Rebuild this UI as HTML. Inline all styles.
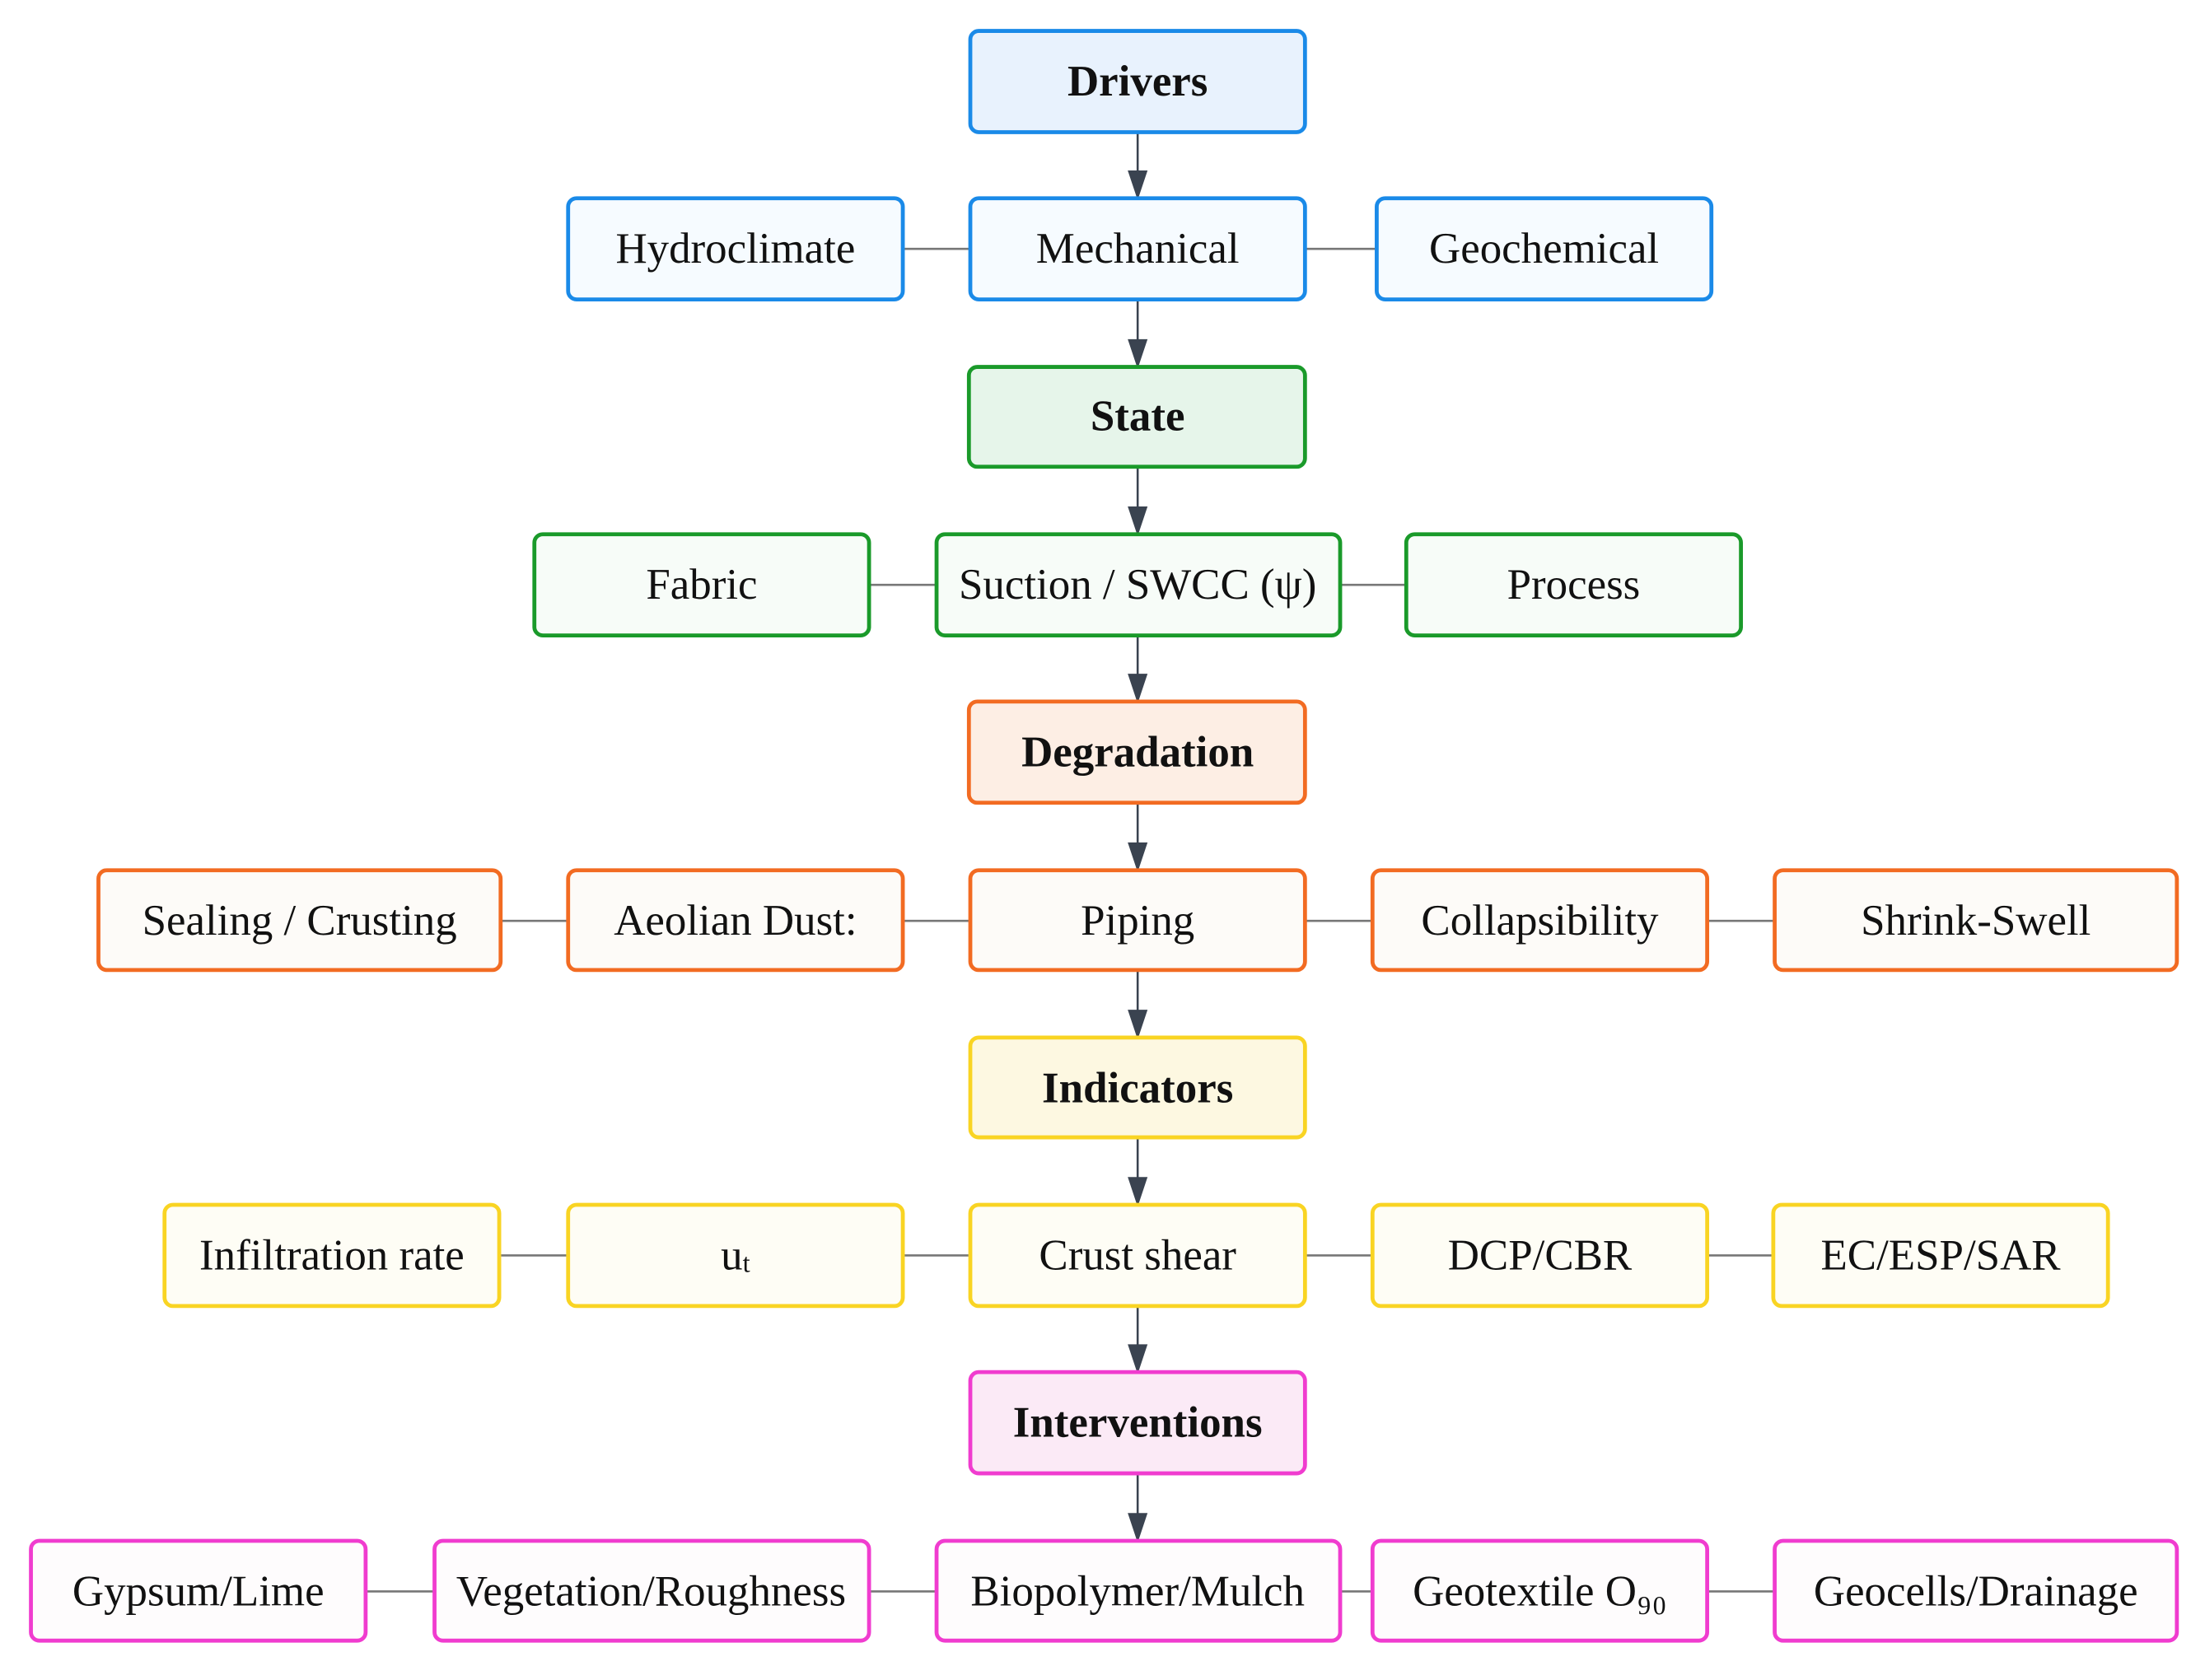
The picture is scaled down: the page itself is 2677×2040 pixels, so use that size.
<!DOCTYPE html>
<html><head><meta charset="utf-8"><style>
html,body{margin:0;padding:0;background:#fff;width:2677px;height:2040px;overflow:hidden}
svg{display:block}
text{font-family:"Liberation Serif","DejaVu Serif",serif;font-size:31px;fill:#111;text-anchor:middle;dominant-baseline:central}
.b{font-weight:bold}
</style></head><body>
<svg width="2677" height="2040" viewBox="0 0 1568 1195" preserveAspectRatio="none" xmlns="http://www.w3.org/2000/svg">
<g stroke="#3a4350" stroke-width="1.5" fill="#3a4350">
<line x1="809" y1="94" x2="809" y2="124"/><path d="M803,122 L815,122 L809,140 Z"/>
<line x1="809" y1="213" x2="809" y2="244"/><path d="M803,242 L815,242 L809,260 Z"/>
<line x1="809" y1="332" x2="809" y2="363"/><path d="M803,361 L815,361 L809,379 Z"/>
<line x1="809" y1="452" x2="809" y2="482"/><path d="M803,480 L815,480 L809,498 Z"/>
<line x1="809" y1="571" x2="809" y2="602"/><path d="M803,600 L815,600 L809,618 Z"/>
<line x1="809" y1="690" x2="809" y2="721"/><path d="M803,719 L815,719 L809,737 Z"/>
<line x1="809" y1="809" x2="809" y2="840"/><path d="M803,838 L815,838 L809,856 Z"/>
<line x1="809" y1="929" x2="809" y2="959"/><path d="M803,957 L815,957 L809,975 Z"/>
<line x1="809" y1="1048" x2="809" y2="1079"/><path d="M803,1077 L815,1077 L809,1095 Z"/>
</g>
<g stroke="#777" stroke-width="1.5">
<line x1="642" y1="177" x2="690" y2="177"/><line x1="928" y1="177" x2="979" y2="177"/>
<line x1="618" y1="416" x2="666" y2="416"/><line x1="953" y1="416" x2="1000" y2="416"/>
<line x1="356" y1="655" x2="404" y2="655"/><line x1="642" y1="655" x2="690" y2="655"/><line x1="928" y1="655" x2="976" y2="655"/><line x1="1214" y1="655" x2="1262" y2="655"/>
<line x1="355" y1="893" x2="404" y2="893"/><line x1="642" y1="893" x2="690" y2="893"/><line x1="928" y1="893" x2="976" y2="893"/><line x1="1214" y1="893" x2="1261" y2="893"/>
<line x1="260" y1="1132" x2="309" y2="1132"/><line x1="618" y1="1132" x2="666" y2="1132"/><line x1="953" y1="1132" x2="976" y2="1132"/><line x1="1214" y1="1132" x2="1262" y2="1132"/>
</g>
<g stroke-width="2.8">
<g stroke="#1a8ae8"><rect x="690" y="22" width="238" height="72" rx="6" fill="#e8f2fd"/>
<rect x="404" y="141" width="238" height="72" rx="6" fill="#f6fbff"/><rect x="690" y="141" width="238" height="72" rx="6" fill="#f6fbff"/><rect x="979" y="141" width="238" height="72" rx="6" fill="#f6fbff"/></g>
<g stroke="#1a9a2a"><rect x="689" y="261" width="239" height="71" rx="6" fill="#e6f5ea"/>
<rect x="380" y="380" width="238" height="72" rx="6" fill="#f7fcf8"/><rect x="666" y="380" width="287" height="72" rx="6" fill="#f7fcf8"/><rect x="1000" y="380" width="238" height="72" rx="6" fill="#f7fcf8"/></g>
<g stroke="#f26b22"><rect x="689" y="499" width="239" height="72" rx="6" fill="#fdeee4"/>
<rect x="70" y="619" width="286" height="71" rx="6" fill="#fdfbf8"/><rect x="404" y="619" width="238" height="71" rx="6" fill="#fdfbf8"/><rect x="690" y="619" width="238" height="71" rx="6" fill="#fdfbf8"/><rect x="976" y="619" width="238" height="71" rx="6" fill="#fdfbf8"/><rect x="1262" y="619" width="286" height="71" rx="6" fill="#fdfbf8"/></g>
<g stroke="#f9d423"><rect x="690" y="738" width="238" height="71" rx="6" fill="#fdf8e1"/>
<rect x="117" y="857" width="238" height="72" rx="6" fill="#fefdf5"/><rect x="404" y="857" width="238" height="72" rx="6" fill="#fefdf5"/><rect x="690" y="857" width="238" height="72" rx="6" fill="#fefdf5"/><rect x="976" y="857" width="238" height="72" rx="6" fill="#fefdf5"/><rect x="1261" y="857" width="238" height="72" rx="6" fill="#fefdf5"/></g>
<g stroke="#f03ccf"><rect x="690" y="976" width="238" height="72" rx="6" fill="#fbeaf6"/>
<rect x="22" y="1096" width="238" height="71" rx="6" fill="#fefcfd"/><rect x="309" y="1096" width="309" height="71" rx="6" fill="#fefcfd"/><rect x="666" y="1096" width="287" height="71" rx="6" fill="#fefcfd"/><rect x="976" y="1096" width="238" height="71" rx="6" fill="#fefcfd"/><rect x="1262" y="1096" width="286" height="71" rx="6" fill="#fefcfd"/></g>
</g>
<text x="809" y="58" class="b">Drivers</text>
<text x="523" y="177">Hydroclimate</text><text x="809" y="177">Mechanical</text><text x="1098" y="177">Geochemical</text>
<text x="809" y="296" class="b">State</text>
<text x="499" y="416">Fabric</text><text x="809" y="416">Suction / SWCC (ψ)</text><text x="1119" y="416">Process</text>
<text x="809" y="535" class="b">Degradation</text>
<text x="213" y="655">Sealing / Crusting</text><text x="523" y="655">Aeolian Dust:</text><text x="809" y="655">Piping</text><text x="1095" y="655">Collapsibility</text><text x="1405" y="655">Shrink-Swell</text>
<text x="809" y="774" class="b">Indicators</text>
<text x="236" y="893">Infiltration rate</text><text x="523" y="893">u<tspan font-size="19" dy="6">t</tspan></text><text x="809" y="893">Crust shear</text><text x="1095" y="893">DCP/CBR</text><text x="1380" y="893">EC/ESP/SAR</text>
<text x="809" y="1012" class="b">Interventions</text>
<text x="141" y="1132">Gypsum/Lime</text><text x="463" y="1132" font-size="29">Vegetation/Roughness</text><text x="809" y="1132">Biopolymer/Mulch</text><text x="1095" y="1132">Geotextile O₉₀</text><text x="1405" y="1132">Geocells/Drainage</text>
</svg>
</body></html>
